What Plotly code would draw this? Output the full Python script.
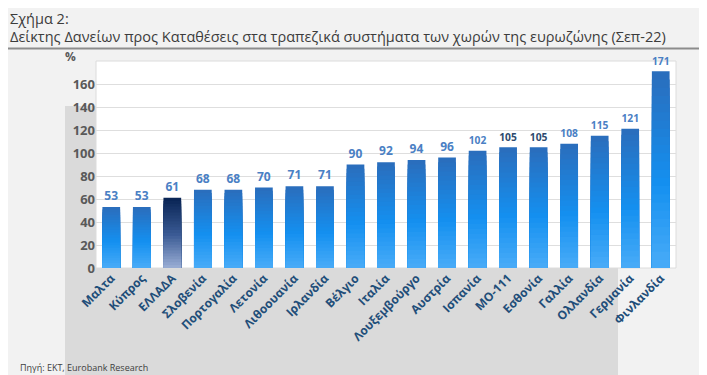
import plotly.graph_objects as go

categories = ["Μαλτα", "Κύπρος", "ΕΛΛΑΔΑ", "Σλοβενία", "Πορτογαλία", "Λετονία",
              "Λιθοουανία", "Ιρλανδία", "Βέλγιο", "Ιταλία", "Λουξεμβούργο", "Αυστρία",
              "Ισπανία", "ΜΟ-111", "Εσθονία", "Γαλλία", "Ολλανδία", "Γερμανία", "Φινλανδία"]
values = [53, 53, 61, 68, 68, 70, 71, 71, 90, 92, 94, 96, 102, 105, 105, 108, 115, 121, 171]
highlight = "ΕΛΛΑΔΑ"
dark_labels = {"ΜΟ-111", "Εσθονία"}
y_ticks = [0, 20, 40, 60, 80, 100, 120, 140, 160]

W, H = 707, 375
L, R, T, B = 88, 668, 53, 260


def px_x(x):
    return (x - L) / (R - L)


def px_y(y):
    return (B - y) / (B - T)


def hex2rgb(h):
    h = h.lstrip("#")
    return [int(h[i:i + 2], 16) for i in (0, 2, 4)]


def interp(stops, f):
    for (p0, c0), (p1, c1) in zip(stops[:-1], stops[1:]):
        if p0 <= f <= p1:
            t = 0 if p1 == p0 else (f - p0) / (p1 - p0)
            a, b = hex2rgb(c0), hex2rgb(c1)
            return "rgb(%d,%d,%d)" % tuple(round(a[i] + (b[i] - a[i]) * t) for i in range(3))
    return stops[-1][1]


blue_stops = [(0.0, "#4cadf8"), (0.45, "#1490f0"), (1.0, "#2a6ebd")]
greek_stops = [(0.0, "#9fb2d8"), (0.5, "#3a5a94"), (1.0, "#0a2656")]

fig = go.Figure()
K = 24
for k in range(K):
    f = 1 - k / K
    heights = [v * f for v in values]
    colors = [interp(greek_stops if c == highlight else blue_stops, f) for c in categories]
    kw = {}
    if k == 0:
        kw = dict(
            text=[str(v) for v in values],
            textposition="outside",
            textfont=dict(family="Open Sans", size=12, weight="bold",
                          color=["#2d4a6e" if c in dark_labels else "#4a80c4" for c in categories]),
            cliponaxis=False,
        )
    fig.add_trace(go.Bar(x=categories, y=heights, marker=dict(color=colors, line=dict(width=0)),
                         width=0.58, showlegend=False, hoverinfo="skip", **kw))

shapes = [
    dict(type="rect", xref="paper", yref="paper", x0=px_x(57), x1=px_x(610), y0=px_y(368), y1=px_y(98),
         fillcolor="#dadada", line=dict(width=0), layer="below"),
    dict(type="rect", xref="paper", yref="paper", x0=0, x1=1, y0=0, y1=1,
         fillcolor="white", line=dict(color="#dcdcdc", width=1), layer="below"),
    dict(type="line", xref="paper", yref="paper", x0=px_x(0), x1=px_x(707), y0=px_y(40.5), y1=px_y(40.5),
         line=dict(color="#8c8c8c", width=2)),
    dict(type="line", xref="paper", yref="paper", x0=px_x(0), x1=px_x(707), y0=px_y(370), y1=px_y(370),
         line=dict(color="#8c8c8c", width=2)),
]

title_1 = "Σχήμα 2:"
title_2 = "Δείκτης Δανείων προς Καταθέσεις στα τραπεζικά συστήματα των χωρών της ευρωζώνης (Σεπ-22)"

annotations = [
    dict(text=title_1, xref="paper", yref="paper", x=px_x(1), y=px_y(0),
         xanchor="left", yanchor="top", borderpad=0,
         showarrow=False, font=dict(family="Open Sans", size=14.5, color="#3c3c3c")),
    dict(text=title_2, xref="paper", yref="paper", x=px_x(1), y=px_y(39.5),
         xanchor="left", yanchor="bottom", borderpad=0,
         showarrow=False, font=dict(family="Open Sans", size=14.5, color="#3c3c3c")),
    dict(text="<b>%</b>", xref="paper", yref="paper", x=px_x(62), y=px_y(49), xanchor="center", yanchor="middle",
         showarrow=False, font=dict(family="Open Sans", size=12, color="#595959")),
    dict(text="Πηγή: ΕΚΤ, Eurobank Research", xref="paper", yref="paper", x=px_x(10), y=px_y(359),
         xanchor="left", yanchor="middle", showarrow=False,
         font=dict(family="Open Sans", size=9, color="#404040")),
]

fig.update_layout(
    width=W, height=H,
    margin=dict(l=L, r=W - R, t=T, b=H - B),
    paper_bgcolor="#f2f2f2", plot_bgcolor="rgba(0,0,0,0)",
    barmode="overlay",
    shapes=shapes, annotations=annotations,
    xaxis=dict(tickangle=-45, tickfont=dict(family="Open Sans", size=12, weight="bold", color="#1f4e79"),
               showgrid=False, showline=False, ticks="", fixedrange=True),
    yaxis=dict(range=[0, 180], tickvals=y_ticks, gridcolor="#dedede", gridwidth=1,
               tickfont=dict(family="Open Sans", size=13, weight="bold", color="#595959"),
               zeroline=False, showline=False, ticks="", fixedrange=True),
)

fig.write_html("out.html")
